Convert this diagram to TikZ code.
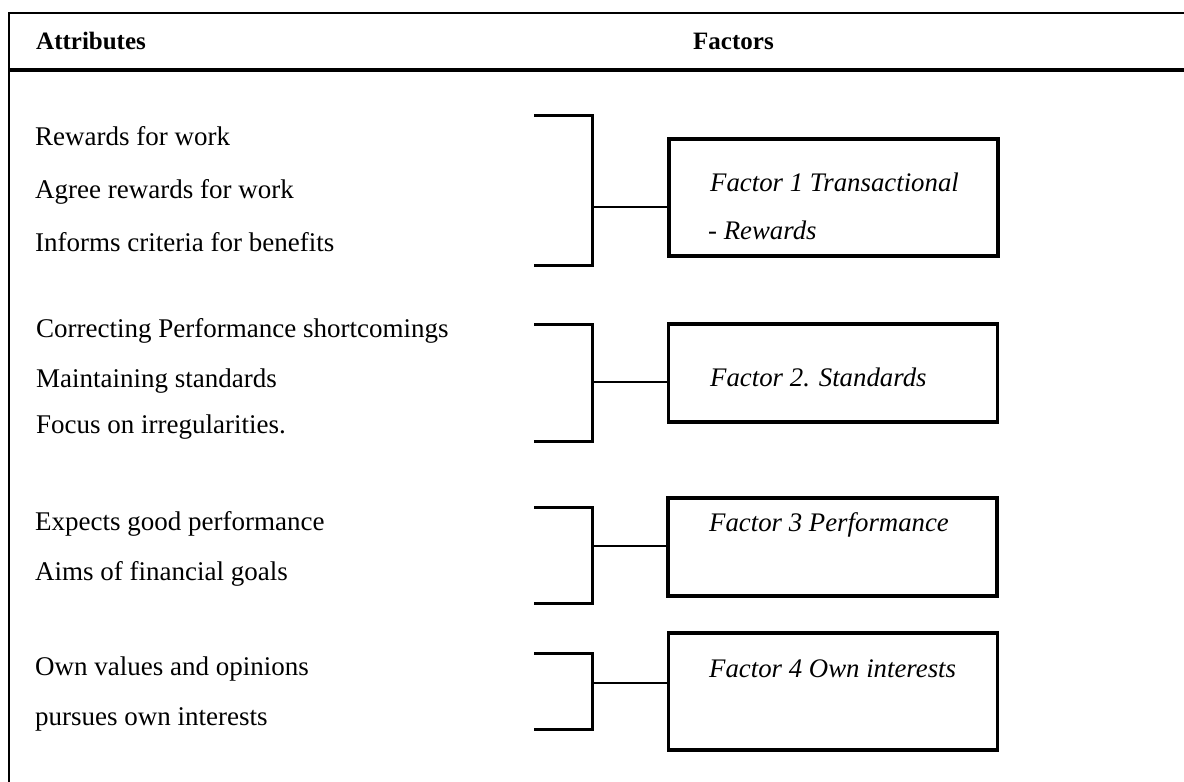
\documentclass[tikz,border=0pt]{standalone}
\usepackage{fontspec}
\setmainfont{Liberation Serif}
\begin{document}
\begin{tikzpicture}[x=1pt,y=-1pt,
  frameline/.style={line width=2.5pt},
  ruleline/.style={line width=4.5pt},
  bracketline/.style={line width=3pt},
  linkline/.style={line width=2.5pt},
  factorbox/.style={draw,line width=3.5pt,rectangle,inner sep=0pt,
    minimum width=329pt},
  headtext/.style={anchor=base west,inner sep=0pt,
    font=\fontsize{25}{28}\selectfont\bfseries},
  attrtext/.style={anchor=base west,inner sep=0pt,
    font=\fontsize{27}{30}\selectfont},
  factortext/.style={anchor=base west,inner sep=0pt,
    font=\fontsize{26.8}{30}\selectfont\itshape}]
\useasboundingbox (0,0) rectangle (1184,782);

% table frame and header rule
\draw[frameline] (1184,13) -- (9,13) -- (9,782);
\draw[ruleline] (9,70) -- (1184,70);
\node[headtext] (hattr) at (36,49) {Attributes};
\node[headtext] (hfact) at (693,49) {Factors};

% attributes
\node[attrtext] (a11) at (35,145) {Rewards for work};
\node[attrtext] (a12) at (35,198) {Agree rewards for work};
\node[attrtext] (a13) at (35,251) {Informs criteria for benefits};

\node[attrtext] (a21) at (36,337) {Correcting Performance shortcomings};
\node[attrtext] (a22) at (36,387) {Maintaining standards};
\node[attrtext] (a23) at (36,433) {Focus on irregularities.};

\node[attrtext] (a31) at (35,530) {Expects good performance};
\node[attrtext] (a32) at (35,580) {Aims of financial goals};

\node[attrtext] (a41) at (35,675) {Own values and opinions};
\node[attrtext] (a42) at (35,725) {pursues own interests};

% factor boxes
\node[factorbox,minimum height=117pt] (f1) at (833.5,197.5) {};
\node[factorbox,minimum height=98pt]  (f2) at (833,373) {};
\node[factorbox,minimum height=98pt]  (f3) at (832.5,547) {};
\node[factorbox,minimum height=117pt] (f4) at (833,691.5) {};

\node[factortext] (t11) at (710,191) {Factor 1 Transactional};
\node[factortext] (t12) at (708,239) {- Rewards};
\node[factortext] (t2)  at (710,386) {Factor 2. Standards};
\node[factortext] (t3)  at (709,531) {Factor 3 Performance};
\node[factortext] (t4)  at (709,677) {Factor 4 Own interests};

% bracket ends and joints
\coordinate (u1) at (534,115); \coordinate (d1) at (534,265); \coordinate (m1) at (592,207);
\coordinate (u2) at (534,324); \coordinate (d2) at (534,441); \coordinate (m2) at (592,382);
\coordinate (u3) at (534,507); \coordinate (d3) at (534,603); \coordinate (m3) at (592,546);
\coordinate (u4) at (534,653); \coordinate (d4) at (534,729); \coordinate (m4) at (592,683);

\foreach \g in {1,2,3,4}{
  \draw[bracketline] (u\g) -- (u\g -| m\g) -- (d\g -| m\g) -- (d\g);
  \draw[linkline] (m\g) -- (m\g -| f\g.west);
}
\end{tikzpicture}
\end{document}
